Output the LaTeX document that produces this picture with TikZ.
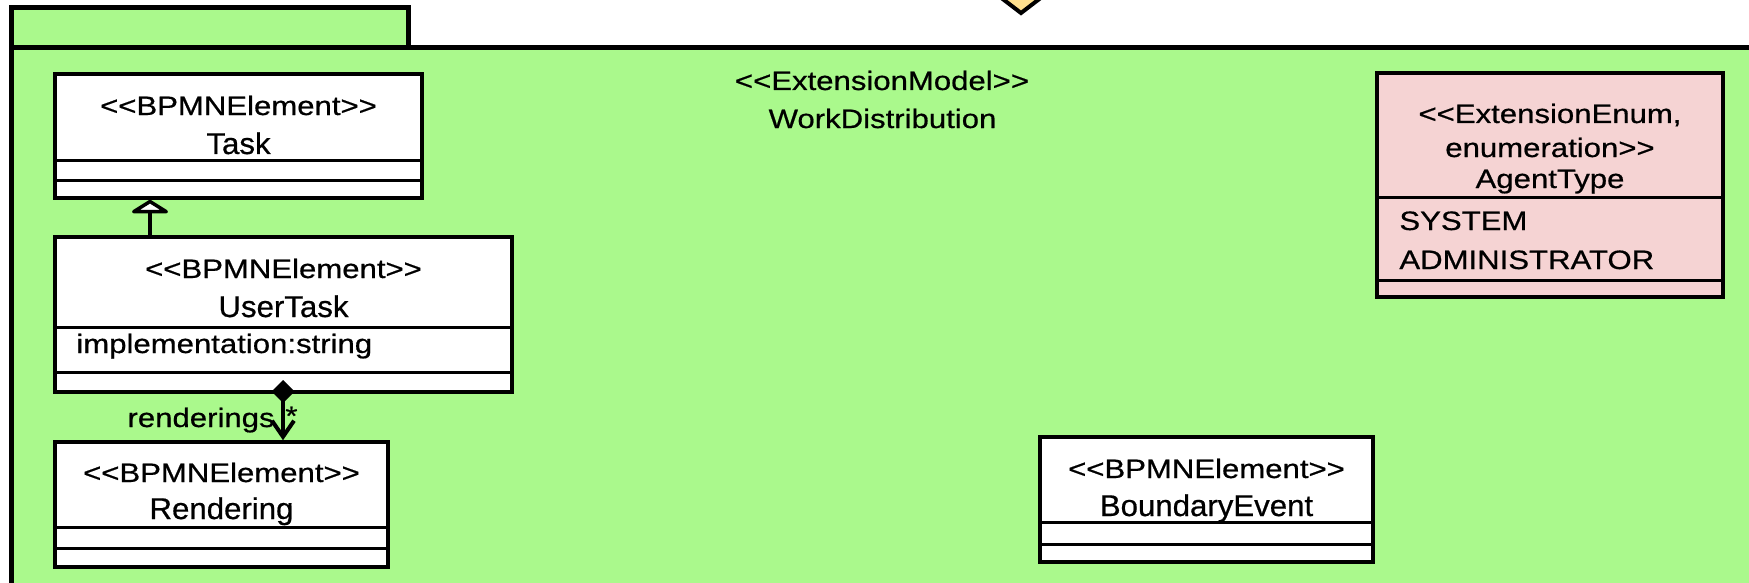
\documentclass[tikz,border=0pt]{standalone}
\usepackage{fontspec}
\setmainfont{Liberation Sans}[Ligatures=TeXOff,FakeStretch=1.17,FakeBold=0.6]
\newfontfamily\namefont{Liberation Sans}[Ligatures=TeXOff,FakeStretch=1.04,FakeBold=0.6]
\usetikzlibrary{fit,arrows.meta}
\definecolor{pkggreen}{RGB}{170,249,140}
\definecolor{enumpink}{RGB}{245,211,211}
\definecolor{notefill}{RGB}{255,224,142}
\tikzset{
  classbox/.style={draw, fill=white, line width=1.75pt, inner sep=0pt},
  sepline/.style={line width=1.5pt},
  txt/.style={anchor=base, inner sep=0pt},
  nametxt/.style={txt, font=\namefont\fontsize{15}{17}\selectfont},
  genarrow/.style={line width=2pt, -{Triangle[open, fill=white, round, width=22pt, length=7pt]}},
  comparrow/.style={line width=2pt, {Diamond[width=11.5pt, length=11.5pt]}-{Straight Barb[width=11pt, length=8pt]}},
}

\begin{document}
\begin{tikzpicture}[x=0.5pt, y=-0.5pt, font=\fontsize{13.3}{15}\selectfont]
      \useasboundingbox (0,0) rectangle (1749,583);
      \clip (0,0) rectangle (1749,583);
      % cut-off diamond above the package
      \draw[fill=notefill, line width=2pt] (970,-26) -- (1021,13) -- (1072,-26);
      % package
      \draw[fill=pkggreen, line width=2.5pt] (11,8) rectangle (408,48);
      \fill[pkggreen] (11,48) rectangle (1760,600);
      \draw[line width=2.5pt] (11,600) -- (11,48) -- (1760,48);
      \node[txt] (pkgstereo) at (882,90) {<<ExtensionModel>>};
      \node[txt] (pkgname) at (882.5,128) {WorkDistribution};

      % classes
      \node[classbox, fit={(55,74) (422,198)}] (task) {};
      \node[classbox, fit={(55,237) (512,392)}] (usertask) {};
      \node[classbox, fit={(55,442) (388,567)}] (rendering) {};
      \node[classbox, fit={(1040,437) (1373,562)}] (boundary) {};
      \node[classbox, fill=enumpink, fit={(1377,73) (1723,297)}] (agenttype) {};
      \foreach \n/\y in {task/160, task/180, usertask/327, usertask/372,
                         rendering/527, rendering/548, boundary/522, boundary/544,
                         agenttype/197, agenttype/280}
            \draw[sepline] (\n.west |- 0,\y) -- (\n.east |- 0,\y);

      \node[txt] (taskstereo) at (238.5,115) {<<BPMNElement>>};
      \node[nametxt] (taskname) at (238.5,154) {Task};
      \node[txt] (userstereo) at (283.5,278) {<<BPMNElement>>};
      \node[nametxt] (username) at (283.5,317) {UserTask};
      \node[txt, anchor=base west] (userattr) at (76,353) {implementation:string};
      \node[txt] (rendstereo) at (221.5,482) {<<BPMNElement>>};
      \node[nametxt] (rendname) at (221.5,519) {Rendering};
      \node[txt] (boundstereo) at (1206.5,478) {<<BPMNElement>>};
      \node[nametxt] (boundname) at (1206.5,516) {BoundaryEvent};
      \node[txt] (agentstereoa) at (1550,123) {<<ExtensionEnum,};
      \node[txt] (agentstereob) at (1550,157) {enumeration>>};
      \node[txt] (agentname) at (1550,188) {AgentType};
      \node[txt, anchor=base west] (litsystem) at (1399,230) {SYSTEM};
      \node[txt, anchor=base west] (litadmin) at (1399,269) {ADMINISTRATOR};

      % relations
      \draw[genarrow] (usertask.north -| 150,0) -- (task.south -| 150,0);
      \coordinate (compsrc) at (283,380);
      \draw[comparrow] (compsrc) -- (rendering.north -| compsrc);
      \node[txt, anchor=base east] (rolelabel) at (275,427) {renderings};
      \node[txt, anchor=base west] (multlabel) at (285,425) {*};
\end{tikzpicture}
\end{document}
